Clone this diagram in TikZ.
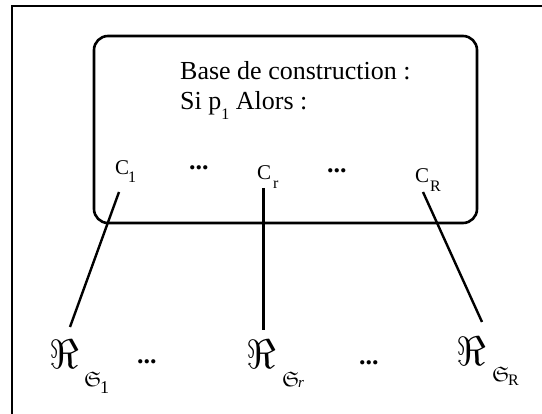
\documentclass[tikz,border=0pt]{standalone}
\usepackage{fontspec}
\usepackage{amssymb}
\usepackage{graphicx}
\setmainfont{Liberation Serif}
\begin{document}
\begin{tikzpicture}[x=1pt,y=-1pt,
  lbl/.style={inner sep=0pt, anchor=base west},
  bigtxt/.style={lbl, font=\fontsize{26}{30}\selectfont},
  ctxt/.style={lbl, font=\fontsize{21}{24}\selectfont},
  subtxt/.style={lbl, font=\fontsize{16}{18}\selectfont},
  dots/.style={lbl, font=\fontsize{26}{30}\selectfont\bfseries},
  retxt/.style={lbl},
  frak/.style={lbl},
  conn/.style={line width=2.4pt},
  boxst/.style={draw, line width=2.6pt, rounded corners=14pt, inner sep=0pt,
                minimum width=383pt, minimum height=187pt}]
\useasboundingbox (0,0) rectangle (542,414);
\draw[line width=1.2pt] (12,414) -- (12,6) -- (542,6);
\node[boxst] (box) at (285.5,129.5) {};
\node[bigtxt] (base) at (180,80) {Base de construction :};
\node[bigtxt] (si) at (180,110) {Si p\raisebox{-10pt}{\fontsize{16}{16}\selectfont 1} Alors :};
% C labels
\node[ctxt] (c1) at (115,175) {C};
\node[subtxt] (c1s) at (128,183) {1};
\node[dots] (d1) at (189,170) {...};
\node[ctxt] (cr) at (257,180) {C};
\node[subtxt] (crs) at (273,189) {r};
\node[dots] (d2) at (327,173) {...};
\node[ctxt] (cR) at (415,183) {C};
\node[subtxt] (cRs) at (430,192) {R};
% Re labels
\node[retxt] (r1) at (49,369) {\scalebox{4.1}{$\Re$}};
\node[frak] (s1) at (84,387) {\scalebox{2.1}{$\mathfrak{S}$}};
\node[lbl, font=\fontsize{18}{20}\selectfont] (s1i) at (100,394) {1};
\node[dots] (d3) at (137,364) {...};
\node[retxt] (rr) at (246,369) {\scalebox{4.1}{$\Re$}};
\node[frak] (sr) at (282,387) {\scalebox{2.1}{$\mathfrak{S}$}};
\node[lbl, font=\fontsize{15}{17}\selectfont\itshape] (sri) at (298,388) {r};
\node[dots] (d4) at (359,365) {...};
\node[retxt] (rR) at (456,366) {\scalebox{4.1}{$\Re$}};
\node[frak] (sR) at (492,382) {\scalebox{2.1}{$\mathfrak{S}$}};
\node[subtxt] (sRi) at (508,386) {R};
% connectors
\coordinate (a1) at (119,192);
\coordinate (b1) at (70,327);
\coordinate (ar) at (263.5,188);
\coordinate (br) at (263.5,330);
\coordinate (aR) at (423,192);
\coordinate (bR) at (482,322);
\draw[conn] (a1) -- (b1);
\draw[conn] (ar) -- (br);
\draw[conn] (aR) -- (bR);
\end{tikzpicture}
\end{document}
